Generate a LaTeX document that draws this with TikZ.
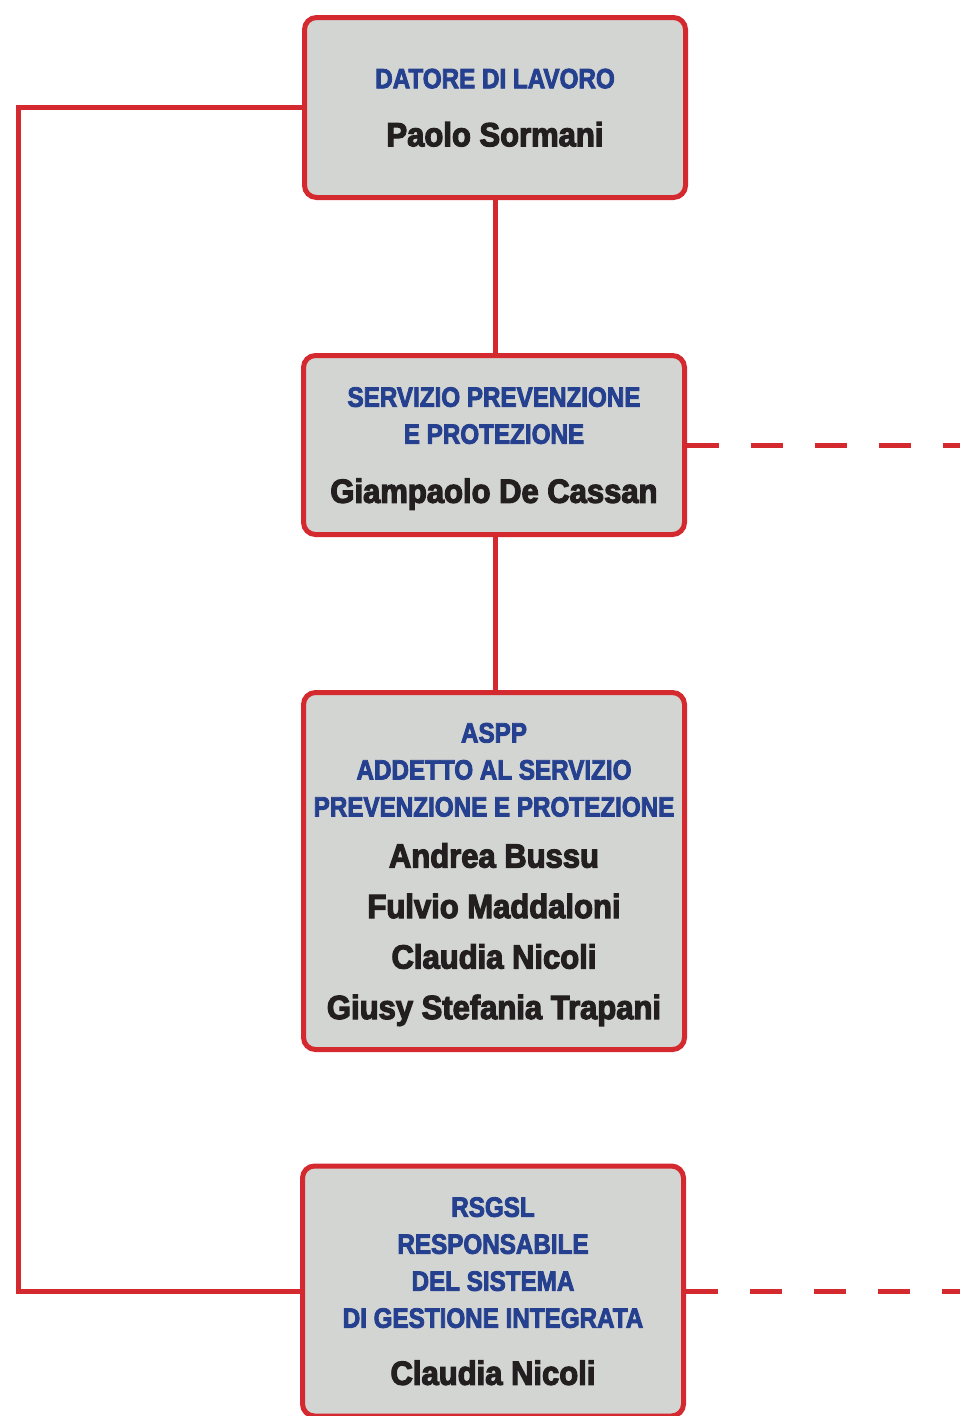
\documentclass[tikz,border=0pt]{standalone}
\usepackage{fontspec}
\setmainfont{Liberation Sans}
\newfontfamily\rolefont{Liberation Sans}[FakeStretch=0.865,FakeBold=3]
\newfontfamily\persfont{Liberation Sans}[FakeStretch=0.925,FakeBold=3.5]
\definecolor{linered}{RGB}{213,41,48}
\definecolor{roleblue}{RGB}{37,64,143}
\definecolor{boxgray}{RGB}{211,213,210}
\definecolor{persblack}{RGB}{35,31,32}
\newcommand{\role}[1]{{\rolefont\bfseries\fontsize{28}{37}\selectfont\color{roleblue}#1}}
\newcommand{\pers}[1]{{\persfont\bfseries\fontsize{33.5}{37}\selectfont\color{persblack}#1}}
\begin{document}
\begin{tikzpicture}[x=1pt,y=-1pt]
\tikzstyle{box}=[rectangle, draw=linered, fill=boxgray, line width=5pt, rounded corners=12pt, minimum width=381pt, align=center, text depth=0pt, inner sep=0pt, font=\fontsize{28}{37}\selectfont];
\tikzstyle{link}=[draw=linered, line width=5pt];
\tikzstyle{dotlink}=[link, dash pattern=on 32pt off 32pt];
\useasboundingbox (0,0) rectangle (960,1416);
\coordinate (rail) at (18,0);
\coordinate (edge) at (960,0);
\node [box, minimum height=180pt] (b1) at (495,107.5) {\role{DATORE DI LAVORO}\\[21pt]\pers{Paolo Sormani}};
\node [box, minimum height=179pt] (b2) at (494,445) {\role{SERVIZIO PREVENZIONE}\\\role{E PROTEZIONE}\\[22pt]\pers{Giampaolo De Cassan}};
\node [box, minimum height=357pt] (b3) at (494,871) {\role{ASPP}\\\role{ADDETTO AL SERVIZIO}\\\role{PREVENZIONE E PROTEZIONE}\\[14pt]\pers{Andrea Bussu}\\[13.5pt]\pers{Fulvio Maddaloni}\\[13.5pt]\pers{Claudia Nicoli}\\[13.5pt]\pers{Giusy Stefania Trapani}};
\node [box, minimum height=250pt] (b4) at (493,1291) {\role{RSGSL}\\\role{RESPONSABILE}\\\role{DEL SISTEMA}\\\role{DI GESTIONE INTEGRATA}\\[20pt]\pers{Claudia Nicoli}};
\draw [link] (b1.south) -- (b1.south |- b2.north);
\draw [link] (b1.south |- b2.south) -- (b1.south |- b3.north);
\draw [link] (b1.west) -| (rail |- b4.west) -- (b4.west);
\draw [dotlink] (b2.east) -- (b2.east -| edge);
\draw [dotlink] (b4.east) -- (b4.east -| edge);
\end{tikzpicture}
\end{document}
